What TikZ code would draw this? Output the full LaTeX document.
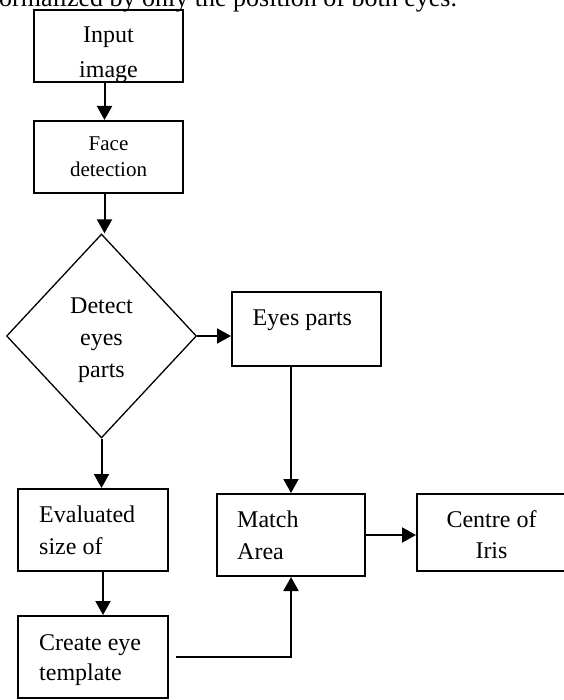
\documentclass[tikz,border=0pt]{standalone}
\usepackage{fontspec}
\setmainfont{Liberation Serif}
\usetikzlibrary{arrows.meta,shapes.geometric}

\tikzset{
  box/.style={draw, line width=2pt, minimum width=149pt, minimum height=72pt, inner sep=0pt},
  decision/.style={draw, diamond, line width=1.3pt, minimum width=190pt, minimum height=204pt, inner sep=0pt},
  txt/.style={inner sep=0pt, font=\fontsize{24}{31}\selectfont},
  flow/.style={-{Triangle[length=14pt,width=15pt]}, line width=2pt},
}

\begin{document}
\begin{tikzpicture}[x=1pt, y=-1pt]
  \useasboundingbox (0,0) rectangle (563,700);
  % Running text above the chart
  \node[txt, font=\fontsize{26}{31}\selectfont, anchor=base west] (caption) at (-1,7)
    {ormalized by only the position of both eyes.};
  % Boxes
  \node[box] (input) at (108.5,46) {};
  \node[box] (face) at (108.5,157) {};
  \node[decision] (detect) at (101.5,336) {};
  \node[box, minimum height=74pt] (eyes) at (306.5,329) {};
  \node[box, minimum width=150pt, minimum height=82pt] (eval) at (93,530) {};
  \node[box, minimum width=150pt, minimum height=82pt] (template) at (93,657) {};
  \node[box, minimum width=148pt, minimum height=82pt] (match) at (291,535) {};
  \node[box, minimum width=148pt, minimum height=77pt] (iris) at (491,532.5) {};
  % Texts (anchored on the last line)
  \begin{scope}
    \clip (input.north west) rectangle (input.south east);
    \node[txt, font=\fontsize{24}{35}\selectfont, anchor=base, align=center] (input-t) at (108.5,78) {Input\\image};
  \end{scope}
  \node[txt, font=\fontsize{21}{26}\selectfont, anchor=base, align=center] (face-t) at (108.5,177)
    {Face\\detection};
  \node[txt, font=\fontsize{24}{32}\selectfont, anchor=base, align=center] (detect-t) at (101.5,377) {Detect\\eyes\\parts};
  \node[txt, anchor=base west] (eyes-t) at (252.5,325) {Eyes parts};
  \node[txt, font=\fontsize{24}{32}\selectfont, anchor=base west, align=left] (eval-t) at (39,554) {Evaluated\\size of};
  \node[txt, font=\fontsize{24}{30}\selectfont, anchor=base west, align=left] (template-t) at (39,680) {Create eye\\template};
  \node[txt, font=\fontsize{24}{32}\selectfont, anchor=base west, align=left] (match-t) at (237,559) {Match\\Area};
  \node[txt, anchor=base, align=center] (iris-t) at (491.5,558) {Centre of\\Iris};
  % Arrows
  \draw[flow] ([xshift=-4pt]input.south) -- ([xshift=-4pt]face.north);
  \draw[flow] ([xshift=-4pt]face.south) -- ([xshift=-4pt]face.south |- detect.north);
  \draw[flow] (detect.east) -- (detect.east -| eyes.west);
  \draw[flow] (detect.south) -- (detect.south |- eval.north);
  \draw[flow] ([xshift=10pt]eval.south) -- ([xshift=10pt]template.north);
  \draw[flow] (eyes.south -| match.north) -- (match.north);
  \draw[flow] (match.east) -- (match.east -| iris.west);
  \draw[flow] ([xshift=7pt]template.east) -| (match.south);
\end{tikzpicture}
\end{document}
